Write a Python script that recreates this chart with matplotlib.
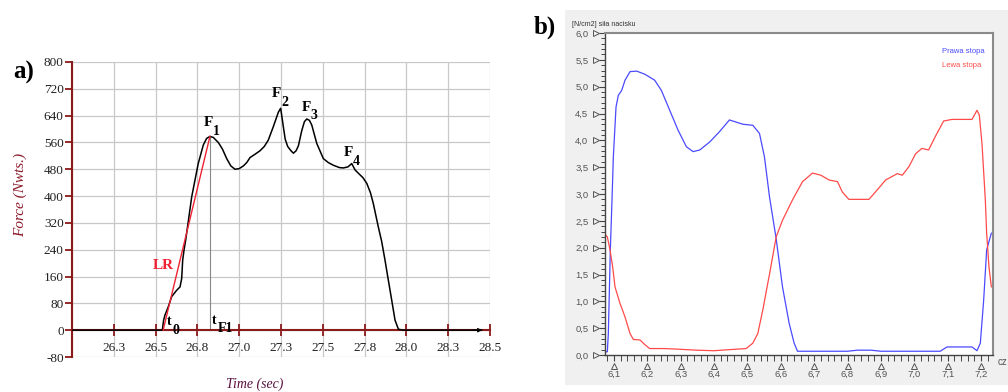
import numpy as np
import matplotlib
matplotlib.use('Agg')
import matplotlib.pyplot as plt
from matplotlib.patches import Rectangle
from matplotlib.ticker import MultipleLocator

# ---------------- Panel a data ----------------
time_a = [26.00, 26.30, 26.54, 26.548, 26.556, 26.576, 26.596, 26.626, 26.646, 26.656,
          26.662, 26.670, 26.680, 26.716, 26.755, 26.785, 26.805, 26.825, 26.845, 26.875,
          26.900, 26.925, 26.950, 26.975, 27.000, 27.025, 27.045, 27.065, 27.095, 27.124,
          27.150, 27.174, 27.204, 27.234, 27.248, 27.264, 27.275, 27.290, 27.310, 27.324,
          27.340, 27.354, 27.374, 27.390, 27.404, 27.420, 27.434, 27.464, 27.503, 27.533,
          27.563, 27.600, 27.623, 27.650, 27.673, 27.693, 27.713, 27.740, 27.763, 27.785,
          27.802, 27.832, 27.852, 27.872, 27.892, 27.912, 27.932, 27.952, 27.980, 28.45]
force_a = [0, 0, 0, 30, 45, 70, 100, 119, 129, 154,
           209, 239, 269, 398, 497, 552, 572, 578, 575, 560,
           540, 512, 490, 480, 482, 490, 500, 515, 525, 535,
           548, 567, 607, 650, 662, 607, 570, 548, 535, 528,
           535, 550, 595, 622, 630, 626, 612, 557, 512, 500,
           492, 485, 484, 487, 497, 478, 468, 455, 438, 410,
           378, 308, 265, 209, 149, 90, 30, 3, 0, 0]
lr_time = [26.545, 26.825]
lr_force = [0, 578]
tf1_time = 26.825
tf1_force = 578

a_xticks = [26.0, 26.25, 26.5, 26.75, 27.0, 27.25, 27.5, 27.75, 28.0, 28.25, 28.5]
a_xticklabels = ['', '26.3', '26.5', '26.8', '27.0', '27.3', '27.5', '27.8', '28.0', '28.3', '28.5']
a_yticks = [-80, 0, 80, 160, 240, 320, 400, 480, 560, 640, 720, 800]
a_yticklabels = ['-80', '0', '80', '160', '240', '320', '400', '480', '560', '640', '720', '800']

# ---------------- Panel b data ----------------
time_right = [6.070, 6.080, 6.083, 6.089, 6.094, 6.098, 6.106, 6.113, 6.123, 6.133,
              6.148, 6.168, 6.193, 6.222, 6.242, 6.267, 6.292, 6.317, 6.337, 6.357,
              6.387, 6.416, 6.446, 6.466, 6.486, 6.516, 6.536, 6.551, 6.566, 6.586,
              6.605, 6.625, 6.640, 6.650, 6.700, 6.800, 6.830, 6.870, 6.900, 7.000,
              7.078, 7.098, 7.173, 7.188, 7.198, 7.208, 7.217, 7.231]
force_right = [0.06, 0.06, 0.40, 1.96, 2.89, 3.69, 4.62, 4.84, 4.93, 5.12,
               5.28, 5.29, 5.23, 5.12, 4.93, 4.56, 4.19, 3.88, 3.79, 3.82,
               3.97, 4.16, 4.38, 4.34, 4.30, 4.28, 4.13, 3.69, 2.95, 2.17,
               1.27, 0.59, 0.22, 0.07, 0.07, 0.07, 0.09, 0.09, 0.07, 0.07,
               0.07, 0.15, 0.15, 0.08, 0.22, 1.02, 1.96, 2.27]
time_left = [6.070, 6.080, 6.088, 6.096, 6.103, 6.118, 6.133, 6.148, 6.158, 6.178,
             6.193, 6.207, 6.250, 6.287, 6.347, 6.400, 6.446, 6.496, 6.516, 6.531,
             6.546, 6.561, 6.566, 6.586, 6.605, 6.635, 6.665, 6.695, 6.720, 6.745,
             6.770, 6.784, 6.804, 6.864, 6.884, 6.914, 6.949, 6.964, 6.984, 7.004,
             7.023, 7.043, 7.063, 7.088, 7.113, 7.173, 7.188, 7.195, 7.203, 7.213,
             7.217, 7.224, 7.231]
force_left = [2.27, 2.20, 1.96, 1.64, 1.27, 0.96, 0.71, 0.40, 0.29, 0.28,
              0.19, 0.12, 0.12, 0.11, 0.09, 0.08, 0.10, 0.12, 0.22, 0.40,
              0.84, 1.34, 1.50, 2.20, 2.51, 2.89, 3.23, 3.39, 3.35, 3.26,
              3.23, 3.04, 2.90, 2.90, 3.04, 3.26, 3.38, 3.35, 3.51, 3.75,
              3.85, 3.82, 4.07, 4.36, 4.39, 4.39, 4.56, 4.47, 3.94, 2.89,
              2.27, 1.64, 1.27]
b_yticks = [0.0, 0.5, 1.0, 1.5, 2.0, 2.5, 3.0, 3.5, 4.0, 4.5, 5.0, 5.5, 6.0]
b_yticklabels = ['0,0', '0,5', '1,0', '1,5', '2,0', '2,5', '3,0', '3,5', '4,0', '4,5', '5,0', '5,5', '6,0']
b_xticks = [6.1, 6.2, 6.3, 6.4, 6.5, 6.6, 6.7, 6.8, 6.9, 7.0, 7.1, 7.2]
b_xticklabels = ['6,1', '6,2', '6,3', '6,4', '6,5', '6,6', '6,7', '6,8', '6,9', '7,0', '7,1', '7,2']
series_names = ['Prawa stopa', 'Lewa stopa']

W, H = 1008, 392
fig = plt.figure(figsize=(W / 100, H / 100), dpi=100)
fig.patch.set_facecolor('white')

serif = 'Liberation Serif'
axred = '#8b1a1a'

# ================= Panel a =================
axa = fig.add_axes([72 / W, 1 - 357 / H, 418 / W, 295 / H])
axa.set_xlim(26.0, 28.5)
axa.set_ylim(-80, 800)
axa.set_xticks(a_xticks)
axa.set_xticklabels(a_xticklabels)
axa.set_yticks(a_yticks)
axa.set_yticklabels(a_yticklabels)
axa.grid(True, color='#c8c8c8', lw=0.9)
axa.set_axisbelow(True)
for s in ['top', 'right']:
    axa.spines[s].set_visible(False)
axa.spines['bottom'].set_position(('data', 0))
for s in ['left', 'bottom']:
    axa.spines[s].set_color(axred)
    axa.spines[s].set_linewidth(1.5)
axa.tick_params(axis='x', direction='inout', length=9, width=1.3, color=axred,
                labelsize=9.5, labelcolor='#222222', pad=4)
axa.tick_params(axis='y', direction='out', length=5, width=1.3, color=axred,
                labelsize=9.5, labelcolor='#222222', pad=1)
for lab in axa.get_xticklabels() + axa.get_yticklabels():
    lab.set_fontfamily(serif)

axa.plot(time_a, force_a, color='black', lw=1.1, zorder=3)
axa.plot(lr_time, lr_force, color='#ee2233', lw=1.0, zorder=4)
axa.plot([tf1_time, tf1_time], [0, tf1_force], color='#888888', lw=0.8, zorder=2)
axa.annotate('', xy=(28.47, 0), xytext=(28.38, 0),
             arrowprops=dict(arrowstyle='-|>', color='black', lw=0.8, mutation_scale=6))

lab_kw = dict(fontfamily=serif, fontweight='bold', color='black', ha='center', va='center')
axa.text(26.815, 619, 'F', fontsize=11, **lab_kw)
axa.text(26.865, 594, '1', fontsize=10, **lab_kw)
axa.text(27.225, 707, 'F', fontsize=11, **lab_kw)
axa.text(27.272, 680, '2', fontsize=10, **lab_kw)
axa.text(27.400, 665, 'F', fontsize=11, **lab_kw)
axa.text(27.448, 640, '3', fontsize=10, **lab_kw)
axa.text(27.652, 531, 'F', fontsize=11, **lab_kw)
axa.text(27.702, 503, '4', fontsize=10, **lab_kw)
axa.text(26.583, 26, 't', fontsize=10, **lab_kw)
axa.text(26.624, -2, '0', fontsize=10, **lab_kw)
axa.text(26.853, 30, 't', fontsize=10, **lab_kw)
axa.text(26.915, 4, 'F1', fontsize=10, **lab_kw)
axa.text(26.545, 192, 'LR', fontsize=11, fontfamily=serif, fontweight='bold',
         color='#ee2233', ha='center', va='center')

fig.text(20 / W, 1 - 195 / H, 'Force (Nwts.)', rotation=90, fontsize=11,
         fontfamily=serif, fontstyle='italic', color='#8b1a2a', ha='center', va='center')
fig.text(255 / W, 1 - 384 / H, 'Time (sec)', fontsize=10, fontfamily=serif,
         fontstyle='italic', color='#5a1040', ha='center', va='center')
fig.text(24 / W, 1 - 72 / H, 'a)', fontsize=18, fontfamily=serif, fontweight='bold',
         ha='center', va='center')
fig.text(545 / W, 1 - 27 / H, 'b)', fontsize=18, fontfamily=serif, fontweight='bold',
         ha='center', va='center')

# ================= Panel b =================
fig.patches.append(Rectangle((565 / W, 1 - 385 / H), (W - 565) / W, 375 / H,
                             transform=fig.transFigure, facecolor='#f0f0f0',
                             edgecolor='none', zorder=-5))
axb = fig.add_axes([605 / W, 1 - 355 / H, 388 / W, 322 / H])
axb.set_zorder(2)
axb.set_facecolor('white')
axb.set_xlim(6.073, 7.236)
axb.set_ylim(0, 6.0)
axb.set_yticks(b_yticks)
axb.set_yticklabels(b_yticklabels)
axb.set_xticks(b_xticks)
axb.set_xticklabels(b_xticklabels)
axb.yaxis.set_minor_locator(MultipleLocator(0.1))
axb.xaxis.set_minor_locator(MultipleLocator(0.02))
for s in ['left', 'bottom']:
    axb.spines[s].set_color('#444444')
    axb.spines[s].set_linewidth(1.0)
for s in ['top', 'right']:
    axb.spines[s].set_color('#8a8a8a')
    axb.spines[s].set_linewidth(1.5)
axb.tick_params(axis='y', which='major', direction='out', length=4, width=0.8,
                color='#444444', labelsize=6.8, labelcolor='#555555', pad=8)
axb.tick_params(axis='y', which='minor', direction='out', length=3, width=0.7, color='#444444')
axb.tick_params(axis='x', which='major', direction='out', length=4, width=0.8,
                color='#444444', labelsize=6.8, labelcolor='#555555', pad=7)
axb.tick_params(axis='x', which='minor', direction='out', length=4, width=0.7, color='#444444')
for lab in axb.get_xticklabels() + axb.get_yticklabels():
    lab.set_fontfamily('Liberation Sans')

axb.plot([-0.022] * len(b_yticks), b_yticks, ls='none', marker='>', ms=4,
         mfc='none', mec='#555555', mew=0.7, transform=axb.get_yaxis_transform(), clip_on=False)
axb.plot(b_xticks, [-0.033] * len(b_xticks), ls='none', marker='^', ms=4,
         mfc='none', mec='#555555', mew=0.7, transform=axb.get_xaxis_transform(), clip_on=False)

axb.plot(time_right, force_right, color='#4a4aff', lw=0.9, label=series_names[0])
axb.plot(time_left, force_left, color='#ff4a4a', lw=0.9, label=series_names[1])

axb.text(0.8686, 0.944, series_names[0], transform=axb.transAxes, fontsize=5.5,
         color='#4a4aff', ha='left', va='center', fontfamily='Liberation Sans')
axb.text(0.8686, 0.900, series_names[1], transform=axb.transAxes, fontsize=5.5,
         color='#ff4a4a', ha='left', va='center', fontfamily='Liberation Sans')

fig.text(572 / W, 1 - 24 / H, '[N/cm2] siła nacisku', fontsize=5, color='#333333',
         ha='left', va='center', fontfamily='Liberation Sans')
fig.text(1007 / W, 1 - 362 / H, 'cz', fontsize=7, color='#555555',
         ha='right', va='center', fontfamily='Liberation Sans')

fig.savefig('out.png', dpi=100)
